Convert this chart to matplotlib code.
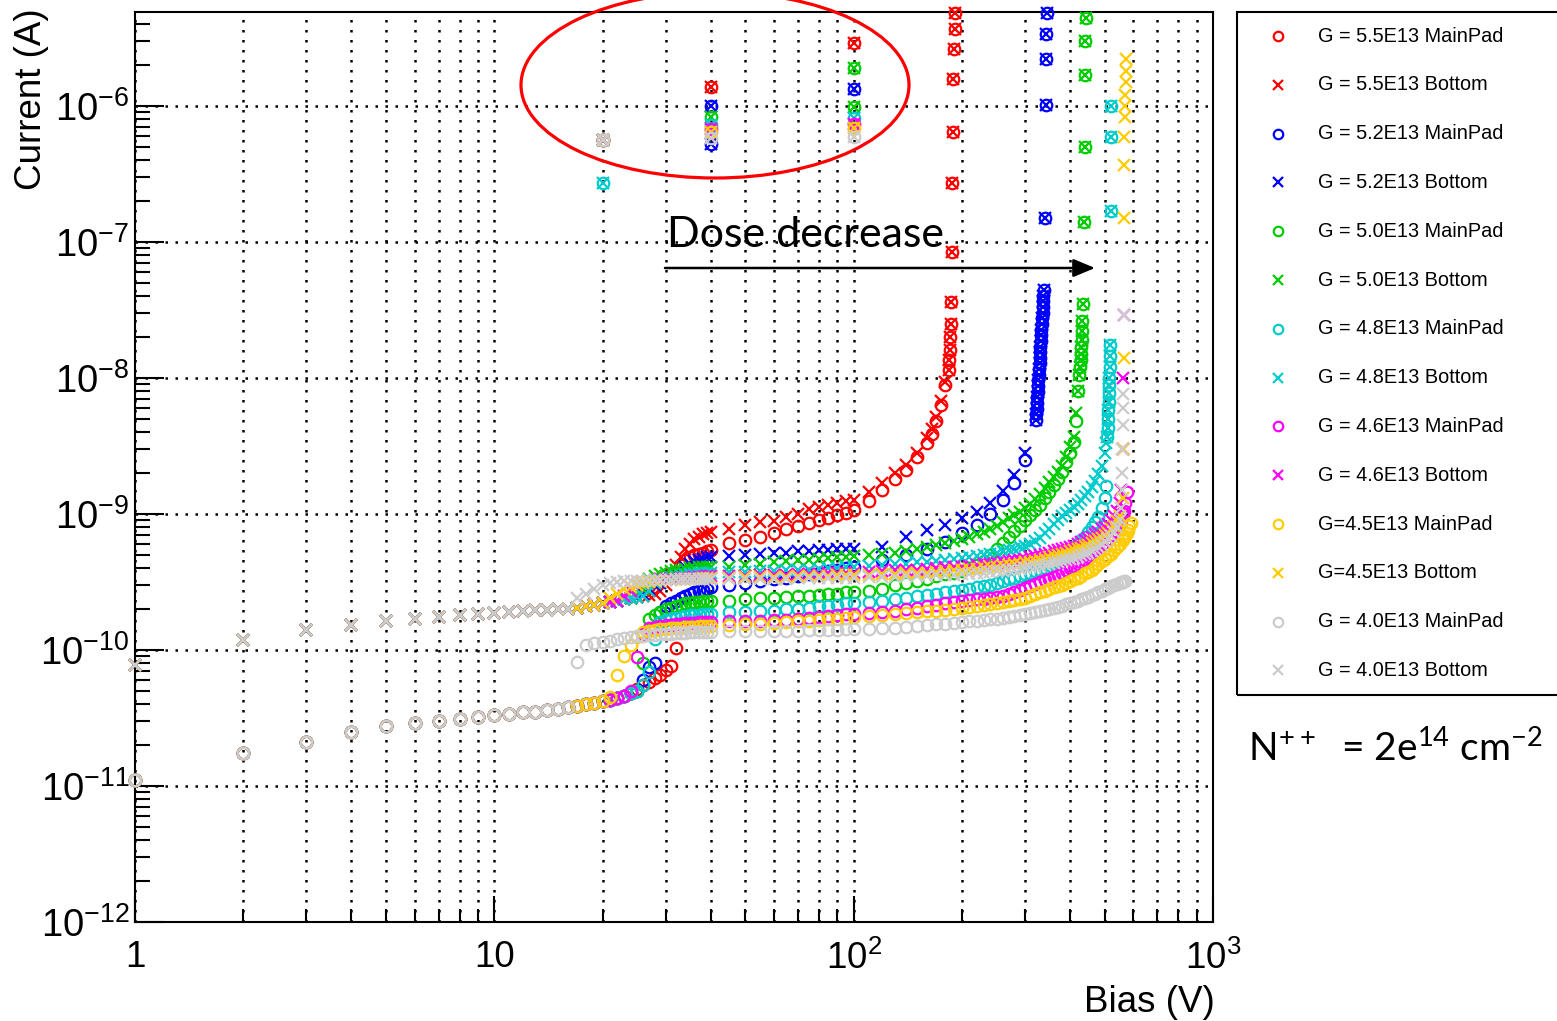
import numpy as np
import matplotlib
matplotlib.use("Agg")
import matplotlib.pyplot as plt
from matplotlib.patches import Ellipse, Rectangle
from matplotlib.lines import Line2D
from matplotlib.ticker import NullFormatter

plt.rcParams.update({
    "font.family": "Liberation Sans",
    "mathtext.fontset": "custom",
    "mathtext.rm": "Liberation Sans",
})

# ---------------------------------------------------------------------------
# data (currents in nA, bias in V)
# ---------------------------------------------------------------------------
NAN = float("nan")

# low-bias part, identical for every sample
LOW_V = [1, 2, 3, 4, 5, 6, 7, 8, 9, 10, 11, 12, 13, 14, 15, 16]
LOW_MAINPAD = [0.011, 0.0175, 0.021, 0.025, 0.0275, 0.029, 0.030, 0.031, 0.032,
               0.033, 0.034, 0.035, 0.035, 0.036, 0.037, 0.038]
LOW_BOTTOM = [0.078, 0.118, 0.14, 0.152, 0.163, 0.17, 0.176, 0.18, 0.184, 0.187,
              0.19, 0.193, 0.196, 0.198, 0.20, 0.20]

V_MID = [17, 18, 19, 20, 21, 22, 23, 24, 25, 26, 27, 28, 29, 30, 31, 32, 33, 34,
         35, 36, 37, 38, 39]
V_40_100 = [40, 45, 50, 55, 60, 65, 70, 75, 80, 85, 90, 95, 100]

# G = 5.5E13
RED_V = V_MID + V_40_100 + [110, 120, 130, 140, 150, 160, 165, 170, 175, 180]
RED_MAINPAD = [0.039, 0.040, 0.041, 0.042, 0.043, 0.044, 0.046, 0.048, 0.052, 0.055,
               0.058, 0.062, 0.066, 0.071, 0.076, 0.103, 0.42, 0.46, 0.48, 0.50,
               0.51, 0.52, 0.53,
               0.54, 0.61, 0.64, 0.68, 0.72, 0.77, 0.81, 0.86, 0.90, 0.94, 0.98,
               1.02, 1.07,
               1.25, 1.5, 1.8, 2.1, 2.6, 3.3, 3.9, 4.8, 6.3, 8.8]
RED_BOTTOM = [0.205, 0.21, 0.215, 0.22, 0.225, 0.23, 0.235, 0.24, 0.245, 0.25, 0.255,
              0.26, 0.27, 0.30, 0.36, 0.42, 0.48, 0.55, 0.60, 0.65, 0.68, 0.71, 0.73,
              0.74, 0.78, 0.83, 0.87, 0.89, 0.95, 1.0, 1.08, 1.12, 1.16, 1.2, 1.24,
              1.27,
              1.45, 1.7, 2.0, 2.3, 2.8, 3.6, 4.2, 5.2, 6.8, 9.3]
RED_BREAKDOWN_V = [184, 184.5, 185, 185.5, 186, 187, 187.5, 188, 188.5, 189, 190,
                   191, 192]
RED_BREAKDOWN = [11.5, 13.6, 16, 20, 25, 36, 84, 270, 640, 1580, 2600, 3700, 4800]
RED_SPIKE_V = [20, 40, 100]
RED_SPIKE = [560, 1370, 2900]

# G = 5.2E13
BLUE_V = V_MID + V_40_100 + [120, 140, 160, 180, 200, 220, 240, 260, 280, 300]
BLUE_MAINPAD = [0.039, 0.040, 0.041, 0.042, 0.043, 0.044, 0.046, 0.048, 0.050, 0.060,
                0.075, 0.080, 0.19, 0.21, 0.22, 0.23, 0.24, 0.25, 0.26, 0.265, 0.27,
                0.275, 0.28,
                0.29, 0.30, 0.31, 0.32, 0.33, 0.34, 0.35, 0.36, 0.37, 0.38, 0.39,
                0.40, 0.41,
                0.46, 0.50, 0.55, 0.62, 0.72, 0.83, 1.0, 1.27, 1.68, 2.5]
BLUE_BOTTOM = [0.205, 0.21, 0.215, 0.22, 0.225, 0.23, 0.235, 0.24, 0.245, 0.26, 0.28,
               0.30, 0.31, 0.33, 0.35, 0.37, 0.39, 0.41, 0.43, 0.45, 0.46, 0.47, 0.48,
               0.48, 0.49, 0.50, 0.51, 0.52, 0.52, 0.53, 0.53, 0.54, 0.54, 0.55,
               0.55, 0.55,
               0.57, 0.68, 0.76, 0.83, 0.93, 1.03, 1.2, 1.47, 1.94, 2.8]
BLUE_BREAKDOWN_V = [321, 322, 323, 323.5, 324, 325, 326, 326.5, 327, 328, 329, 329.5,
                    330, 331, 332, 332.5, 333, 334, 335, 335.5, 336, 337, 337.5, 338,
                    340, 342, 343, 344, 345]
BLUE_BREAKDOWN = [4.9, 5.4, 5.9, 6.5, 7.2, 7.9, 8.7, 9.6, 10.5, 11.6, 12.8, 14, 15.4,
                  17, 18.7, 20.6, 22.6, 24.9, 27.4, 30, 33, 36.5, 40, 44,
                  150, 1020, 2200, 3400, 4800]
BLUE_SPIKE_V = [20, 40, 40, 100]
BLUE_SPIKE = [560, 990, 525, 1330]

# G = 5.0E13
GREEN_V = V_MID + V_40_100 + [110, 120, 130, 140, 150, 160, 170, 180, 190, 200, 210,
                              220, 230, 240, 250, 260, 270, 280, 290, 300, 310, 320,
                              330, 340, 350, 360, 370, 380, 390, 400, 410, 415]
GREEN_MAINPAD = [0.039, 0.040, 0.041, 0.042, 0.043, 0.044, 0.046, 0.048, 0.050, 0.080,
                 0.17, 0.18, 0.19, 0.20, 0.205, 0.21, 0.215, 0.22, 0.222, 0.225,
                 0.227, 0.23, 0.23,
                 0.23, 0.23, 0.235, 0.24, 0.24, 0.245, 0.25, 0.25, 0.255, 0.26, 0.26,
                 0.265, 0.265,
                 0.27, 0.28, 0.30, 0.31, 0.32, 0.335, 0.35, 0.36, 0.37, 0.38, 0.40,
                 0.42, 0.45, 0.50, 0.55, 0.61, 0.68, 0.75, 0.82, 0.90, 0.98, 1.07,
                 1.17, 1.3, 1.45, 1.62, 1.82, 2.05, 2.4, 2.8, 3.4, 4.8]
GREEN_BOTTOM = [0.205, 0.21, 0.215, 0.22, 0.225, 0.23, 0.235, 0.24, 0.245, 0.28, 0.33,
                0.35, 0.36, 0.37, 0.38, 0.385, 0.39, 0.395, 0.40, 0.40, 0.405, 0.41,
                0.41,
                0.41, 0.41, 0.42, 0.43, 0.44, 0.45, 0.455, 0.46, 0.47, 0.475, 0.48,
                0.485, 0.49,
                0.50, 0.51, 0.52, 0.53, 0.55, 0.57, 0.59, 0.61, 0.63, 0.65, 0.68,
                0.71, 0.74, 0.78, 0.82, 0.87, 0.93, 0.98, 1.03, 1.1, 1.18, 1.28, 1.4,
                1.55, 1.72, 1.88, 2.05, 2.25, 2.6, 3.1, 3.7, 5.5]
GREEN_BREAKDOWN_V = [422, 425, 427, 428, 429, 430, 431, 432, 433, 434, 437, 439, 440,
                     441, 442]
GREEN_BREAKDOWN = [8, 10.5, 12, 13.5, 15, 17, 19, 22, 26, 35, 140, 500, 1700, 3000,
                   4400]
GREEN_SPIKE_V = [20, 40, 100, 100]
GREEN_SPIKE = [560, 830, 1900, 980]

# G = 4.8E13
CYAN_V = V_MID + V_40_100 + [110, 120, 130, 140, 150, 160, 170, 180, 190, 200, 210,
                             220, 230, 240, 250, 260, 270, 280, 290, 300, 310, 320,
                             330, 340, 350, 360, 370, 380, 390, 400, 410, 420, 430,
                             440, 450, 460, 470, 480, 490, 500, 505]
CYAN_MAINPAD = [0.039, 0.040, 0.041, 0.042, 0.043, 0.044, 0.046, 0.048, 0.050, 0.055,
                0.069, 0.12, 0.16, 0.165, 0.17, 0.172, 0.175, 0.177, 0.18, 0.18,
                0.182, 0.183, 0.185,
                0.185, 0.19, 0.19, 0.195, 0.195, 0.20, 0.20, 0.205, 0.21, 0.21, 0.215,
                0.22, 0.22,
                0.225, 0.23, 0.235, 0.24, 0.25, 0.255, 0.26, 0.265, 0.27, 0.275,
                0.28, 0.29, 0.295, 0.30, 0.31, 0.32, 0.33, 0.34, 0.35, 0.36,
                0.37, 0.38, 0.39, 0.40, 0.42, 0.44, 0.46, 0.48, 0.51, 0.54,
                0.57, 0.60, 0.64, 0.68, 0.74, 0.80, 0.87, 0.95, 1.1, 1.3, 1.6]
CYAN_BOTTOM = [0.205, 0.21, 0.215, 0.22, 0.225, 0.23, 0.235, 0.24, 0.245, 0.25, 0.27,
               0.31, 0.32, 0.33, 0.34, 0.345, 0.35, 0.355, 0.36, 0.36, 0.365, 0.37,
               0.37,
               0.37, 0.375, 0.375, 0.38, 0.38, 0.385, 0.39, 0.39, 0.395, 0.40, 0.40,
               0.405, 0.41,
               0.415, 0.42, 0.425, 0.43, 0.44, 0.445, 0.45, 0.46, 0.47, 0.475,
               0.48, 0.49, 0.50, 0.51, 0.52, 0.53, 0.54, 0.555, 0.57, 0.58,
               0.60, 0.63, 0.67, 0.72, 0.78, 0.84, 0.90, 0.96, 1.01, 1.06,
               1.12, 1.19, 1.27, 1.35, 1.45, 1.58, 1.75, 1.95, 2.25, 2.8, 3.3]
CYAN_BREAKDOWN_V = [508, 509, 510, 511, 512, 513, 514, 515, 516, 517, 518, 519, 520,
                    521]
CYAN_BREAKDOWN = [3.7, 4.3, 5, 5.8, 6.7, 7.7, 8.8, 10, 12, 14.5, 17.5, 170, 590, 1000]
CYAN_SPIKE_V = [20, 40, 100]
CYAN_SPIKE = [270, 720, 810]

# G = 4.6E13
MAGENTA_V = V_MID + V_40_100 + [110, 120, 130, 140, 150, 160, 170, 180, 190, 200,
                                210, 220, 230, 240, 250, 260, 270, 280, 290, 300,
                                310, 320, 330, 340, 350, 360, 370, 380, 390, 400,
                                410, 420, 430, 440, 450, 460, 470, 480, 490, 500,
                                510, 520, 530, 540, 550, 555, 560, 562, 565, 570, 575]
MAGENTA_MAINPAD = [0.039, 0.040, 0.041, 0.042, 0.043, 0.044, 0.046, 0.050, 0.089,
                   0.13, 0.145, 0.148, 0.15, 0.152, 0.153, 0.155, 0.156, 0.157, 0.158,
                   0.159, 0.16, 0.16, 0.16,
                   0.16, 0.162, 0.163, 0.164, 0.165, 0.167, 0.17, 0.172, 0.175, 0.178,
                   0.18, 0.183, 0.185,
                   0.188, 0.19, 0.195, 0.20, 0.205, 0.21, 0.215, 0.22, 0.225, 0.23,
                   0.232, 0.235, 0.238, 0.24, 0.245, 0.25, 0.26, 0.265, 0.275, 0.285,
                   0.295, 0.305, 0.315, 0.325, 0.335, 0.345, 0.355, 0.37, 0.385, 0.40,
                   0.415, 0.43, 0.445, 0.46, 0.48, 0.50, 0.525, 0.55, 0.58, 0.61,
                   0.65, 0.70, 0.75, 0.81, 0.87, 0.91, 0.96, 1.0, 1.05, 1.2, 1.45]
MAGENTA_BOTTOM = [0.205, 0.21, 0.215, 0.22, 0.225, 0.23, 0.25, 0.27, 0.30, 0.31, 0.32,
                  0.325, 0.33, 0.33, 0.335, 0.335, 0.34, 0.34, 0.34, 0.345, 0.345,
                  0.345, 0.35,
                  0.35, 0.35, 0.352, 0.354, 0.355, 0.357, 0.36, 0.36, 0.362, 0.365,
                  0.367, 0.37, 0.37,
                  0.375, 0.38, 0.385, 0.39, 0.39, 0.395, 0.40, 0.405, 0.41, 0.41,
                  0.415, 0.42, 0.425, 0.43, 0.435, 0.44, 0.45, 0.455, 0.46, 0.47,
                  0.48, 0.49, 0.50, 0.51, 0.52, 0.53, 0.54, 0.55, 0.56, 0.57,
                  0.585, 0.60, 0.62, 0.64, 0.66, 0.68, 0.71, 0.74, 0.77, 0.80,
                  0.85, 0.90, 0.97, 1.05, 1.2, 1.5, 3.0, 10, 29, NAN, NAN]
MAGENTA_BREAKDOWN_V = []
MAGENTA_BREAKDOWN = []
MAGENTA_SPIKE_V = [20, 40, 100]
MAGENTA_SPIKE = [560, 680, 740]

# G = 4.5E13
YELLOW_V = V_MID + V_40_100 + [110, 120, 130, 140, 150, 160, 170, 180, 190, 200,
                               210, 220, 230, 240, 250, 260, 270, 280, 290, 300,
                               310, 320, 330, 340, 350, 360, 370, 380, 390, 400,
                               410, 420, 430, 440, 450, 460, 470, 480, 490, 500,
                               510, 520, 530, 540, 550, 560, 562, 564, 565, 566,
                               567, 568, 569, 570, 571, 572, 573, 575, 580, 585, 590]
YELLOW_MAINPAD = [0.039, 0.040, 0.041, 0.042, 0.045, 0.065, 0.09, 0.109, 0.125,
                  0.135, 0.138, 0.14, 0.142, 0.143, 0.144, 0.145, 0.146, 0.147,
                  0.148, 0.148, 0.149, 0.15, 0.15,
                  0.15, 0.152, 0.154, 0.156, 0.158, 0.16, 0.162, 0.164, 0.166, 0.168,
                  0.17, 0.172, 0.175,
                  0.178, 0.18, 0.183, 0.186, 0.189, 0.192, 0.195, 0.198, 0.20, 0.203,
                  0.207, 0.21, 0.214, 0.218, 0.222, 0.226, 0.23, 0.234, 0.238, 0.243,
                  0.25, 0.257, 0.265, 0.273, 0.28, 0.288, 0.295, 0.30, 0.31, 0.32,
                  0.33, 0.34, 0.35, 0.365, 0.375, 0.39, 0.41, 0.43, 0.45, 0.47,
                  0.49, 0.51, 0.54, 0.57, 0.60, 0.64, NAN, NAN, 0.66, NAN,
                  NAN, NAN, NAN, 0.69, NAN, NAN, NAN, 0.72, 0.76, 0.81, 0.86]
YELLOW_BOTTOM = [0.205, 0.21, 0.215, 0.22, 0.24, 0.26, 0.28, 0.29, 0.30, 0.31, 0.315,
                 0.32, 0.32, 0.325, 0.325, 0.33, 0.33, 0.33, 0.335, 0.335, 0.335,
                 0.34, 0.34,
                 0.34, 0.34, 0.342, 0.344, 0.345, 0.346, 0.348, 0.35, 0.35, 0.352,
                 0.353, 0.354, 0.355,
                 0.358, 0.36, 0.362, 0.365, 0.368, 0.37, 0.375, 0.38, 0.385, 0.39,
                 0.393, 0.397, 0.40, 0.405, 0.41, 0.415, 0.42, 0.425, 0.43, 0.44,
                 0.445, 0.45, 0.46, 0.47, 0.48, 0.49, 0.50, 0.51, 0.52, 0.53,
                 0.54, 0.55, 0.565, 0.58, 0.595, 0.61, 0.63, 0.65, 0.67, 0.70,
                 0.73, 0.77, 0.82, 0.88, 0.97, 1.3, 3.0, 14, 150, 370,
                 590, 830, 1000, 1200, 1500, 1800, 2200, NAN, NAN, NAN, NAN]
YELLOW_BREAKDOWN_V = []
YELLOW_BREAKDOWN = []
YELLOW_SPIKE_V = [20, 40, 100]
YELLOW_SPIKE = [560, 640, 690]

# G = 4.0E13
GRAY_V = V_MID + V_40_100 + [110, 120, 130, 140, 150, 160, 170, 180, 190, 200,
                             210, 220, 230, 240, 250, 260, 270, 280, 290, 300,
                             310, 320, 330, 340, 350, 360, 370, 380, 390, 400,
                             410, 420, 430, 440, 450, 460, 470, 480, 490, 500,
                             510, 520, 530, 540, 550, 555, 557, 558, 559, 560,
                             561, 562, 565, 570]
GRAY_MAINPAD = [0.082, 0.109, 0.112, 0.115, 0.117, 0.12, 0.122, 0.124, 0.126, 0.127,
                0.128, 0.129, 0.13, 0.131, 0.132, 0.133, 0.134, 0.134, 0.135, 0.135,
                0.136, 0.136, 0.136,
                0.136, 0.137, 0.137, 0.138, 0.138, 0.139, 0.139, 0.14, 0.14, 0.141,
                0.141, 0.142, 0.142,
                0.143, 0.145, 0.146, 0.148, 0.15, 0.152, 0.154, 0.156, 0.158, 0.16,
                0.162, 0.164, 0.166, 0.168, 0.17, 0.173, 0.176, 0.179, 0.182, 0.185,
                0.188, 0.191, 0.194, 0.197, 0.20, 0.204, 0.208, 0.212, 0.216, 0.22,
                0.225, 0.23, 0.235, 0.24, 0.246, 0.252, 0.258, 0.265, 0.272, 0.28,
                0.287, 0.294, 0.30, 0.306, 0.312, 0.314, NAN, NAN, NAN, 0.316,
                NAN, NAN, 0.32, 0.322]
GRAY_BOTTOM = [0.24, 0.26, 0.28, 0.30, 0.31, 0.315, 0.32, 0.32, 0.322, 0.324, 0.325,
               0.326, 0.327, 0.328, 0.329, 0.33, 0.33, 0.33, 0.33, 0.33, 0.33, 0.33,
               0.33,
               0.33, 0.33, 0.332, 0.333, 0.334, 0.335, 0.336, 0.337, 0.338, 0.339,
               0.34, 0.34, 0.34,
               0.342, 0.344, 0.346, 0.348, 0.35, 0.352, 0.354, 0.356, 0.358, 0.36,
               0.363, 0.366, 0.37, 0.374, 0.378, 0.382, 0.386, 0.39, 0.395, 0.40,
               0.405, 0.41, 0.416, 0.422, 0.428, 0.435, 0.442, 0.45, 0.458, 0.466,
               0.475, 0.485, 0.495, 0.505, 0.52, 0.535, 0.55, 0.57, 0.59, 0.62,
               0.65, 0.69, 0.74, 0.80, 0.90, 1.1, 1.5, 2.0, 3.0, 4.5,
               6.0, 7.6, 29, NAN]
GRAY_BREAKDOWN_V = []
GRAY_BREAKDOWN = []
GRAY_SPIKE_V = [20, 40, 100]
GRAY_SPIKE = [560, 580, 590]

SAMPLES = [
    ("G = 5.5E13", "#ff0000", RED_V, RED_MAINPAD, RED_BOTTOM,
     RED_BREAKDOWN_V, RED_BREAKDOWN, RED_SPIKE_V, RED_SPIKE),
    ("G = 5.2E13", "#0000ff", BLUE_V, BLUE_MAINPAD, BLUE_BOTTOM,
     BLUE_BREAKDOWN_V, BLUE_BREAKDOWN, BLUE_SPIKE_V, BLUE_SPIKE),
    ("G = 5.0E13", "#00cc00", GREEN_V, GREEN_MAINPAD, GREEN_BOTTOM,
     GREEN_BREAKDOWN_V, GREEN_BREAKDOWN, GREEN_SPIKE_V, GREEN_SPIKE),
    ("G = 4.8E13", "#00cccc", CYAN_V, CYAN_MAINPAD, CYAN_BOTTOM,
     CYAN_BREAKDOWN_V, CYAN_BREAKDOWN, CYAN_SPIKE_V, CYAN_SPIKE),
    ("G = 4.6E13", "#ff00ff", MAGENTA_V, MAGENTA_MAINPAD, MAGENTA_BOTTOM,
     MAGENTA_BREAKDOWN_V, MAGENTA_BREAKDOWN, MAGENTA_SPIKE_V, MAGENTA_SPIKE),
    ("G=4.5E13", "#ffcc00", YELLOW_V, YELLOW_MAINPAD, YELLOW_BOTTOM,
     YELLOW_BREAKDOWN_V, YELLOW_BREAKDOWN, YELLOW_SPIKE_V, YELLOW_SPIKE),
    ("G = 4.0E13", "#cccccc", GRAY_V, GRAY_MAINPAD, GRAY_BOTTOM,
     GRAY_BREAKDOWN_V, GRAY_BREAKDOWN, GRAY_SPIKE_V, GRAY_SPIKE),
]

# ---------------------------------------------------------------------------
W, H = 1557, 1021
fig = plt.figure(figsize=(W / 100, H / 100), dpi=100)
ax = fig.add_axes([135 / W, 1 - 922 / H, (1213 - 135) / W, (922 - 12) / H])

entries = []
for name, col, v, mp, bt, bdv, bd, spv, sp in SAMPLES:
    for low, vals, mk, suffix in ((LOW_MAINPAD, mp, "o", "MainPad"),
                                  (LOW_BOTTOM, bt, "x", "Bottom")):
        x = LOW_V + v + bdv + spv
        y = np.array(low + vals + bd + sp, dtype=float) * 1e-9
        ax.plot(x, y, ls="none", marker=mk, ms=8.3, mew=1.6, mfc="none", mec=col,
                clip_on=False, zorder=3)
        entries.append((f"{name} {suffix}", col, mk))

ax.set_xscale("log")
ax.set_yscale("log")
ax.set_xlim(1, 1000)
ax.set_ylim(1e-12, 4.9e-6)
ax.set_xticks([1, 10, 100, 1000], ["1", "10", "$10^{2}$", "$10^{3}$"])
ax.xaxis.set_minor_formatter(NullFormatter())
ax.yaxis.set_minor_formatter(NullFormatter())
ax.tick_params(which="both", direction="in", top=False, right=False, width=1.5)
ax.tick_params(axis="x", which="major", length=19, pad=13, labelsize=26.5)
ax.tick_params(axis="x", which="minor", length=9.5)
ax.tick_params(axis="y", which="major", length=21, pad=4, labelsize=27.5)
ax.tick_params(axis="y", which="minor", length=11)
for s in ax.spines.values():
    s.set_linewidth(1.5)
ax.grid(True, which="both", axis="x", color="black", ls=(0, (1, 3)), lw=1.8)
ax.grid(True, which="major", axis="y", color="black", ls=(0, (1, 3)), lw=1.8)
ax.set_axisbelow(True)

fig.text(32 / W, 1 - 8 / H, "Current (A)", rotation=90, ha="center", va="top",
         fontsize=26.5)
fig.text(1215 / W, 1 - 1012 / H, "Bias (V)", ha="right", va="baseline",
         fontsize=26.5)

# legend box (right edge runs off the picture)
lax = fig.add_axes([1237 / W, 1 - 695 / H, (W - 1237) / W, (695 - 12) / H])
lax.set_xlim(0, 1)
lax.set_ylim(0, 1)
lax.axis("off")
lax.add_patch(Rectangle((0, 0), 1.1, 1, fill=False, ec="black", lw=1.5,
                        clip_on=False))
for i, (lab, col, mk) in enumerate(entries):
    yy = (695 - (36 + i * 48.8)) / (695 - 12)
    lax.add_line(Line2D([0.128], [yy], ls="none", marker=mk, ms=6.8, mew=1.6,
                        mfc="none", mec=col))
    lax.text(0.253, yy, lab, fontsize=14.3, va="center", ha="left")

# annotations
fig.add_artist(Ellipse((715 / W, 1 - 85 / H), 388 / W, 186 / H,
                       transform=fig.transFigure, fill=False, ec="red", lw=2.3))
fig.text(667 / W, 1 - 247 / H, "Dose decrease", fontsize=31, family="Lato",
         ha="left", va="baseline", zorder=5)
ax.annotate("", xy=(1095 / W, 1 - 268 / H), xytext=(665 / W, 1 - 268 / H),
            xycoords="figure fraction", textcoords="figure fraction",
            arrowprops=dict(arrowstyle="-|>,head_length=0.6,head_width=0.25",
                            mutation_scale=22, lw=1.8, color="black",
                            shrinkA=0, shrinkB=0))
fig.text(1248 / W, 1 - 761 / H,
         r"N$\mathregular{^{++}}$  = 2e$\mathregular{^{14}}$ cm$\mathregular{^{-2}}$",
         fontsize=28, family="Lato", ha="left", va="baseline")

fig.savefig("out.png", dpi=100)
